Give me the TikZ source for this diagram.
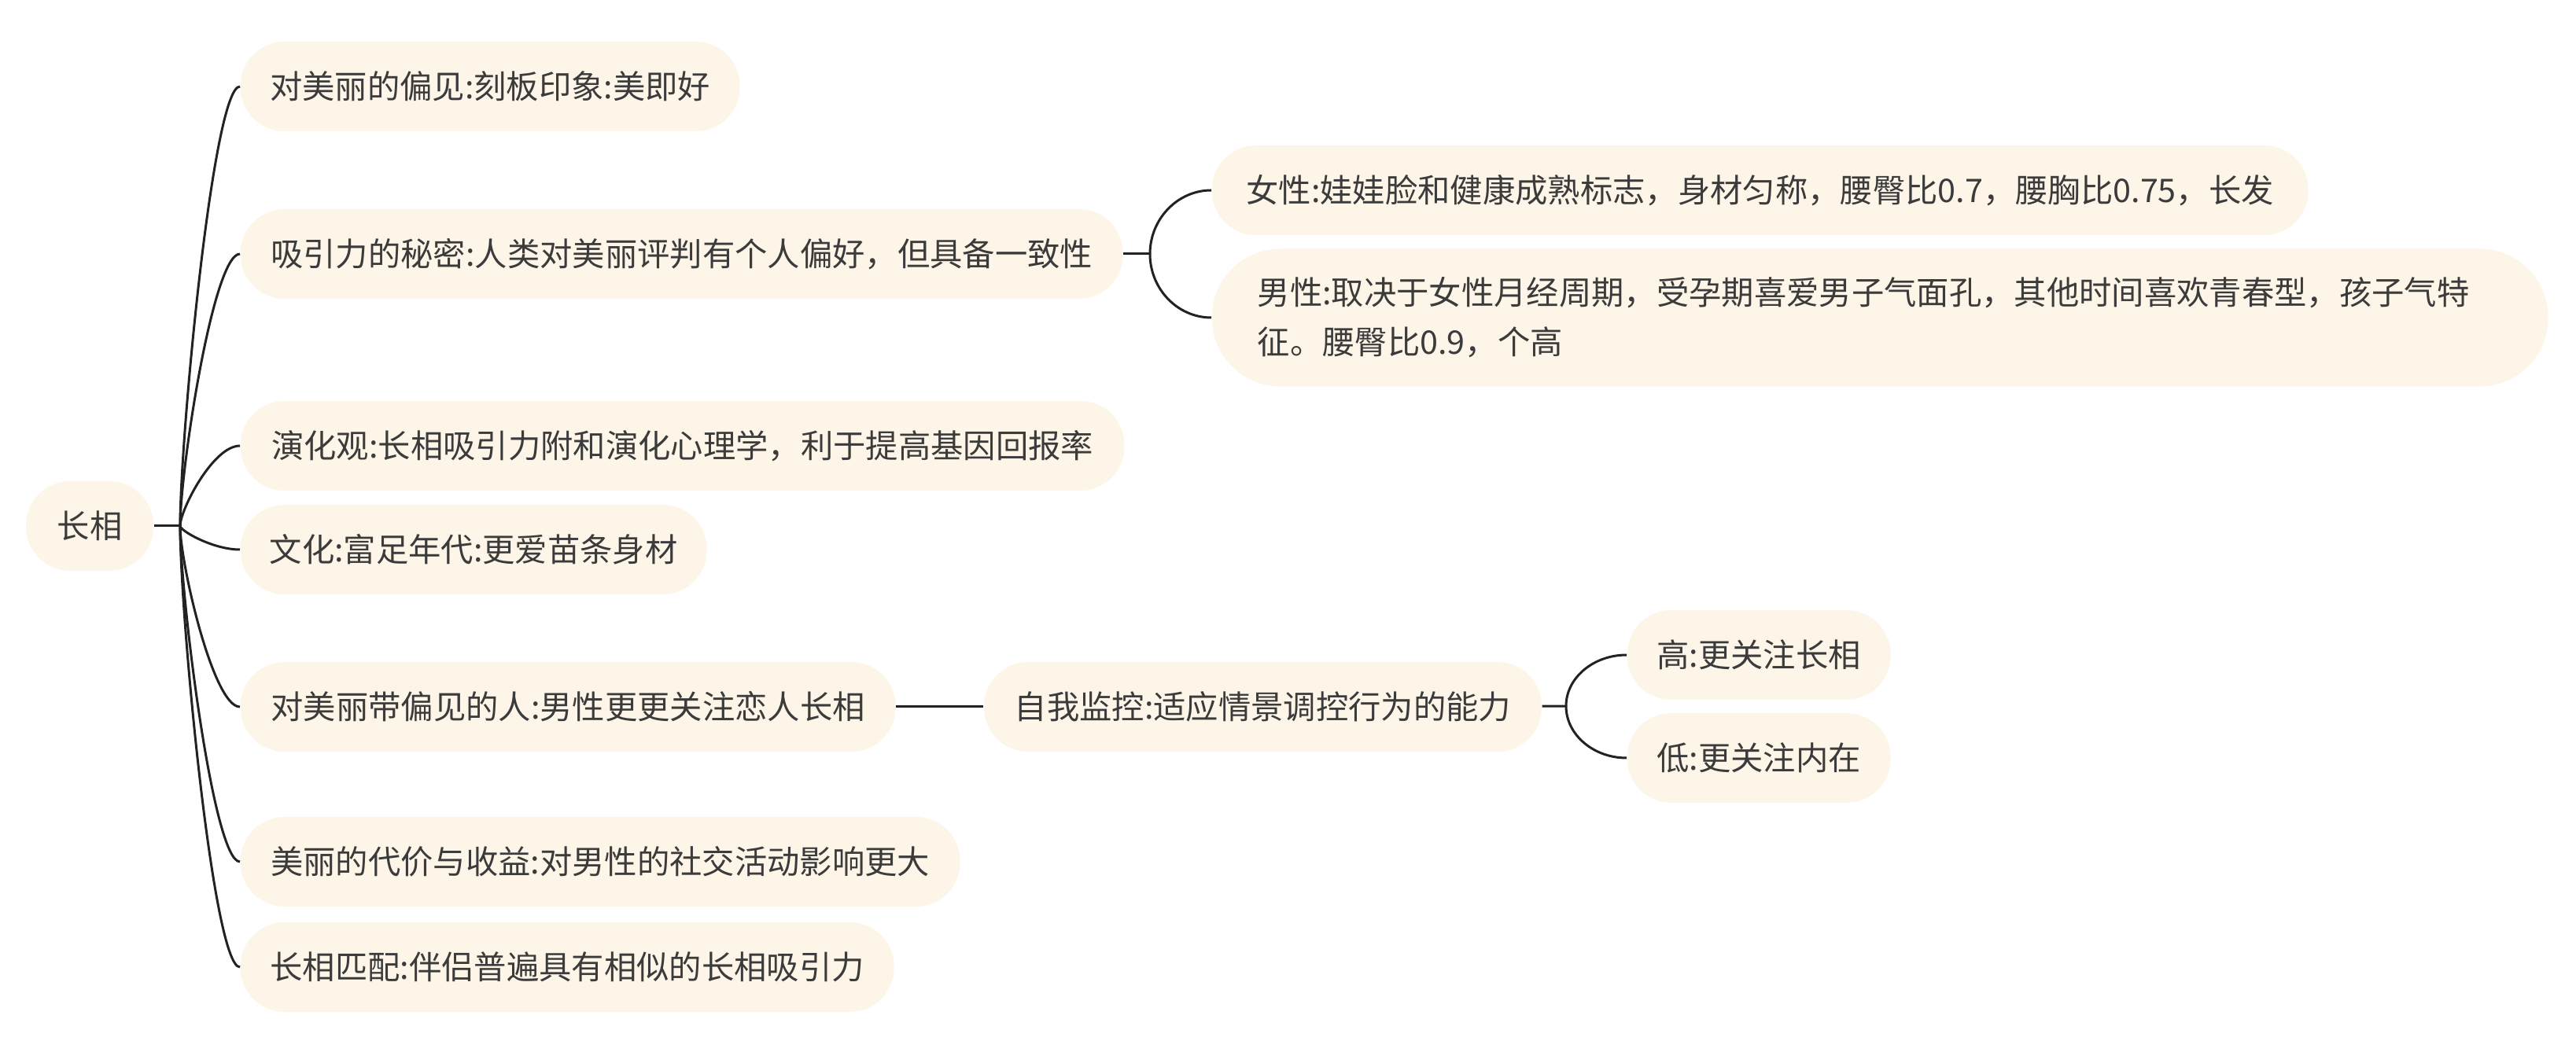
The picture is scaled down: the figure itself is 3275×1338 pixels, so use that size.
\documentclass[tikz,border=0pt]{standalone}
\usepackage{fontspec}
\setmainfont{Noto Sans CJK SC}
\usetikzlibrary{positioning,calc}
\definecolor{topicfill}{HTML}{FDF5E8}
\definecolor{topictext}{HTML}{3B3B3B}
\definecolor{branch}{HTML}{222222}
\newlength{\pxu}
\setlength{\pxu}{0.3pt}
\tikzset{
  topic/.style={fill=topicfill, text=topictext, rounded corners=56\pxu, align=left,
    minimum height=114\pxu, inner xsep=30\pxu, inner ysep=0pt,
    font=\fontsize{12.4}{18.9}\selectfont},
  link/.style={draw=branch, line width=0.9pt},
}

\begin{document}
\begin{tikzpicture}[x=0.3pt, y=-0.3pt]
    \path[use as bounding box] (0,0) rectangle (3275,1338);

    \node[topic, minimum width=162\pxu] (face) at (114,669) {长相};
    \coordinate (hubroot) at (229,669);

    \node[topic, anchor=west, minimum width=635\pxu] (bias) at (305,110) {对美丽的偏见:刻板印象:美即好};
    \node[topic, anchor=west, minimum width=1122\pxu] (secret) at (305,323) {吸引力的秘密:人类对美丽评判有个人偏好，但具备一致性};
    \node[topic, anchor=west, minimum width=1124\pxu] (evo) at (305,567) {演化观:长相吸引力附和演化心理学，利于提高基因回报率};
    \node[topic, anchor=west, minimum width=593\pxu] (culture) at (305,699) {文化:富足年代:更爱苗条身材};
    \node[topic, anchor=west, minimum width=833\pxu] (prejudice) at (305,899) {对美丽带偏见的人:男性更更关注恋人长相};
    \node[topic, anchor=west, minimum width=915\pxu] (cost) at (305,1096) {美丽的代价与收益:对男性的社交活动影响更大};
    \node[topic, anchor=west, minimum width=831\pxu] (match) at (305,1230) {长相匹配:伴侣普遍具有相似的长相吸引力};

    % attraction: women / men
    \coordinate (hubsecret) at (1462,323);
    \node[topic, anchor=west, minimum width=1394\pxu] (female) at (1540,242) {女性:娃娃脸和健康成熟标志，身材匀称，腰臀比0.7，腰胸比0.75，长发};
    \node[topic, anchor=west, text width=1583\pxu, inner xsep=58\pxu, minimum height=175\pxu, rounded corners=87\pxu] (male) at (1540,404)
      {男性:取决于女性月经周期，受孕期喜爱男子气面孔，其他时间喜欢青春型，孩子气特\\征。腰臀比0.9，个高};

    % self-monitoring
    \node[topic, right=111\pxu of prejudice, minimum width=709\pxu] (selfmon) {自我监控:适应情景调控行为的能力};
    \coordinate (hubself) at (1991,898);
    \node[topic, anchor=west, minimum width=335\pxu] (high) at (2068,833) {高:更关注长相};
    \node[topic, anchor=west, minimum width=335\pxu] (low) at (2068,964) {低:更关注内在};

    \draw[link] (face) -- (hubroot);
    \foreach \kid in {bias,secret,evo,culture,prejudice,cost,match}
      \draw[link] (hubroot) .. controls ($(hubroot)!0.2!(hubroot |- \kid.west)$) and ($(hubroot |- \kid.west)!0.55!(\kid.west)$) .. (\kid.west);
    \draw[link] (secret) -- (hubsecret);
    \foreach \kid in {female,male}
      \draw[link] (hubsecret) .. controls ($(hubsecret)!0.55!(hubsecret |- \kid.west)$) and ($(hubsecret |- \kid.west)!0.45!(\kid.west)$) .. (\kid.west);
    \draw[link] (prejudice) -- (selfmon);
    \draw[link] (selfmon) -- (hubself);
    \foreach \kid in {high,low}
      \draw[link] (hubself) .. controls ($(hubself)!0.55!(hubself |- \kid.west)$) and ($(hubself |- \kid.west)!0.45!(\kid.west)$) .. (\kid.west);
  \end{tikzpicture}
\end{document}
